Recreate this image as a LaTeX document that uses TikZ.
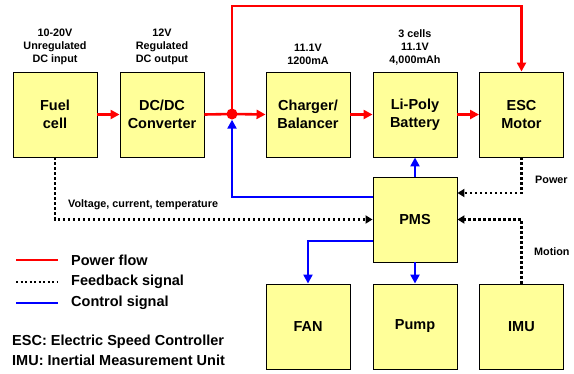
\documentclass[tikz,border=0pt]{standalone}
\usepackage{fontspec}
\setmainfont{Liberation Sans}
\usetikzlibrary{arrows.meta}
\definecolor{boxfill}{RGB}{255,255,153}
\begin{document}
\begin{tikzpicture}[x=1pt,y=-1pt,
  blk/.style={draw=black,line width=0.9pt,fill=boxfill,minimum width=84pt,minimum height=85pt,inner sep=0pt,align=center,font=\fontsize{14.5}{18}\selectfont\bfseries},
  lbl/.style={align=center,font=\fontsize{10.8}{13}\selectfont\bfseries,inner sep=0pt},
  side/.style={font=\fontsize{10.8}{13}\selectfont\bfseries,inner sep=0pt},
  leg/.style={font=\fontsize{14.5}{18}\selectfont\bfseries,inner sep=0pt,anchor=west},
  power/.style={draw=red,line width=2.6pt},
  control/.style={draw=blue,line width=2.6pt},
  feedback/.style={draw=black,line width=2.3pt,dash pattern=on 2.3pt off 2.7pt},
  tip/.style={-{Triangle[length=9pt,width=9pt]}},
  ftip/.style={-{Triangle[length=7pt,width=8pt]}},
]
\useasboundingbox (0,0) rectangle (574,373);
\node[blk] (fuel) at (55,114.5) {Fuel\\cell};
\node[blk] (dcdc) at (162,114.5) {DC/DC\\Converter};
\node[blk] (chg) at (308,114.5) {Charger/\\Balancer};
\node[blk] (bat) at (415,114.5) {Li-Poly\\Battery};
\node[blk] (esc) at (521.5,114.5) {ESC\\Motor};
\node[blk] (pms) at (415,219.5) {PMS};
\node[blk] (fan) at (308,326.5) {FAN};
\node[blk] (pump) at (415,326.5) {Pump};
\node[blk] (imu) at (521.5,326.5) {IMU};
\coordinate (top) at (232,6);

\node[lbl,anchor=south] (l1) at (55,65) {10-20V\\Unregulated\\DC input};
\node[lbl,anchor=south] (l2) at (162,65) {12V\\Regulated\\DC output};
\node[lbl,anchor=south] (l3) at (308,65) {11.1V\\1200mA};
\node[lbl,anchor=south] (l4) at (415,65) {3 cells\\11.1V\\4,000mAh};
\node[side,anchor=west] (vct) at (68,205) {Voltage, current, temperature};
\node[side,anchor=west] (pw) at (535,180) {Power};
\node[side,anchor=west] (mo) at (534,252) {Motion};

% power
\draw[power,tip] (fuel.east) -- (dcdc.west);
\node[circle,fill=red,inner sep=0pt,minimum size=11pt] (j) at (232,114) {};
\draw[power] (dcdc.east) -- (j.center);
\draw[power,tip] (j.center) -- (chg.west);
\draw[power,tip] (j.center) -- (top) -| (esc.north);
\draw[power,tip] (chg.east) -- (bat.west);
\draw[power,tip] (bat.east) -- (esc.west);
% control
\draw[control,tip] (pms.north) -- (bat.south);
\draw[control,tip] ([yshift=22.5pt]pms.west) -| (j.south);
\draw[control,tip] (pms.south) -- (pump.north);
\draw[control,tip] ([yshift=-21.5pt]pms.west) -| (fan.north);
% feedback
\draw[feedback,ftip] (fuel.south) |- (pms.west);
\draw[feedback,ftip] (esc.south) |- ([yshift=26.5pt]pms.east);
\draw[feedback,ftip] (imu.north) |- (pms.east);

% legend
\coordinate (a1) at (16,260); \coordinate (b1) at (58,260);
\coordinate (a2) at (16,282); \coordinate (b2) at (58,282);
\coordinate (a3) at (16,303); \coordinate (b3) at (58,303);
\draw[draw=red,line width=2pt] (a1) -- (b1);
\draw[draw=black,line width=2pt,dash pattern=on 2pt off 2.5pt] (a2) -- (b2);
\draw[draw=blue,line width=2pt] (a3) -- (b3);
\node[leg] (t1) at (71,260) {Power flow};
\node[leg] (t2) at (71,282) {Feedback signal};
\node[leg] (t3) at (71,303) {Control signal};
\node[leg] (e1) at (12,342) {ESC: Electric Speed Controller};
\node[leg] (e2) at (12,360) {IMU: Inertial Measurement Unit};
\end{tikzpicture}
\end{document}
